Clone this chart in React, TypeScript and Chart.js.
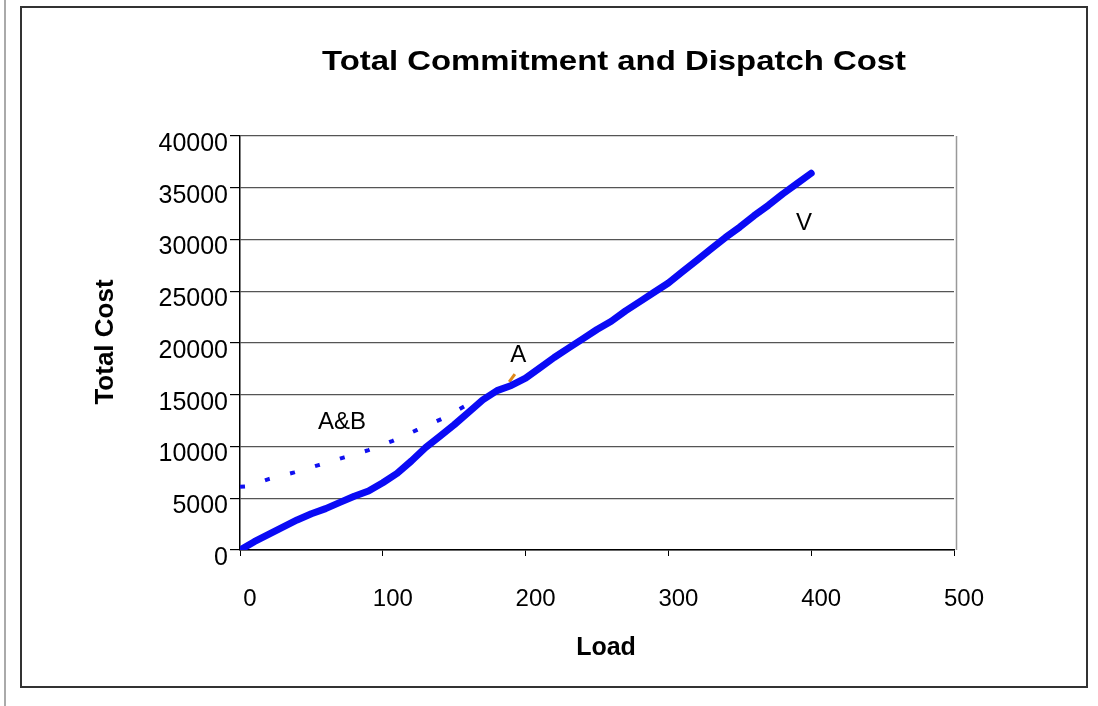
import React, { useEffect, useRef } from "react";
import { Chart, registerables } from "chart.js";

Chart.register(...registerables);

const titleText = "Total Commitment and Dispatch Cost";
const xTitle = "Load";
const yTitle = "Total Cost";

const vLoad = [0, 10, 20, 30, 40, 50, 60, 70, 80, 90, 100, 110, 120, 130, 140, 150, 160, 170, 180, 190, 200, 210, 220, 230, 240, 250, 260, 270, 280, 290, 300, 310, 320, 330, 340, 350, 360, 370, 380, 390, 400];
const vCost = [0, 800, 1500, 2200, 2900, 3500, 4000, 4600, 5200, 5700, 6500, 7400, 8600, 9900, 11000, 12100, 13300, 14500, 15400, 15900, 16600, 17600, 18600, 19500, 20400, 21300, 22100, 23100, 24000, 24900, 25800, 26900, 28000, 29100, 30200, 31200, 32300, 33300, 34400, 35400, 36400];

const abLoad = [0, 5, 20, 38, 55, 73, 90, 107, 124, 141, 160];
const abCost = [6100, 6150, 6850, 7500, 8200, 8950, 9650, 10550, 11600, 12650, 14100];

const aLoad = [188.5, 192.5];
const aCost = [16250, 17000];

const noteText = ["A&B", "A", "V"];
const noteLoad = [71.5, 194.8, 395];
const noteCost = [11700, 18150, 30900];

const FONT = 'Arial, "Liberation Sans", sans-serif';

const toPts = (xs: number[], ys: number[]) => xs.map((x, i) => ({ x, y: ys[i] }));

const textPlugin = {
  id: "texts",
  afterDraw(chart: any) {
    const ctx = chart.ctx as CanvasRenderingContext2D;
    const { right, top, bottom } = chart.chartArea;
    const xs = chart.scales.x;
    const ys = chart.scales.y;
    ctx.save();
    // right border of plot area
    ctx.strokeStyle = "#999";
    ctx.lineWidth = 1.5;
    ctx.beginPath();
    ctx.moveTo(right + 2.5, top);
    ctx.lineTo(right + 2.5, bottom);
    ctx.stroke();

    ctx.fillStyle = "#000";
    // title (stretched horizontally like the original)
    ctx.font = `bold 28px ${FONT}`;
    ctx.textAlign = "center";
    ctx.textBaseline = "alphabetic";
    const w = ctx.measureText(titleText).width;
    ctx.save();
    ctx.translate(614, 70);
    ctx.scale(584 / w, 1);
    ctx.fillText(titleText, 0, 0);
    ctx.restore();

    // x axis title
    ctx.font = `bold 25px ${FONT}`;
    ctx.fillText(xTitle, 606, 655);

    // y axis title
    ctx.save();
    ctx.translate(113, 342);
    ctx.rotate(-Math.PI / 2);
    ctx.font = `bold 26px ${FONT}`;
    ctx.fillText(yTitle, 0, 0);
    ctx.restore();

    // series notes
    ctx.font = `24px ${FONT}`;
    noteText.forEach((t, i) => {
      ctx.fillText(t, xs.getPixelForValue(noteLoad[i]), ys.getPixelForValue(noteCost[i]));
    });
    ctx.restore();
  },
};

export default function App() {
  const ref = useRef<HTMLCanvasElement>(null);
  useEffect(() => {
    if (!ref.current) return;
    const chart = new Chart(ref.current, {
      type: "scatter",
      data: {
        datasets: [
          {
            label: "A&B",
            data: toPts(abLoad, abCost),
            showLine: true,
            borderColor: "#1010f0",
            borderWidth: 4,
            borderDash: [5, 21],
            borderCapStyle: "butt",
            pointRadius: 0,
          },
          {
            label: "V",
            data: toPts(vLoad, vCost),
            showLine: true,
            borderColor: "#0a0af5",
            borderWidth: 7,
            borderCapStyle: "round",
            borderJoinStyle: "round",
            pointRadius: 0,
          },
          {
            label: "A",
            data: toPts(aLoad, aCost),
            showLine: true,
            borderColor: "#e08a1a",
            borderWidth: 3,
            pointRadius: 0,
          },
        ],
      },
      options: {
        responsive: false,
        animation: false,
        layout: { padding: { left: 140, top: 136, right: 144, bottom: 56 } },
        plugins: { legend: { display: false }, title: { display: false }, tooltip: { enabled: false } },
        scales: {
          x: {
            type: "linear",
            min: 0,
            max: 500,
            afterFit: (s: any) => { s.height = 100; },
            ticks: {
              stepSize: 100,
              color: "#000",
              font: { family: FONT, size: 24 },
              padding: 29,
              labelOffset: 10,
              maxRotation: 0,
              callback: (v: any) => String(v),
            },
            grid: { drawOnChartArea: false, drawTicks: true, tickLength: 6, tickColor: "#000" },
            border: { color: "#000", width: 1.5 },
          },
          y: {
            min: 0,
            max: 40000,
            afterFit: (s: any) => { s.width = 100; },
            ticks: {
              stepSize: 5000,
              color: "#000",
              font: { family: FONT, size: 25 },
              padding: 2,
              labelOffset: 8,
              callback: (v: any) => String(v),
            },
            grid: { color: "#555", lineWidth: 1.2, tickLength: 10, tickColor: "#000" },
            border: { color: "#000", width: 1.5 },
          },
        },
      },
      plugins: [textPlugin],
    });
    return () => chart.destroy();
  }, []);

  return (
    <div style={{ position: "absolute", left: 0, top: 0, width: 1098, height: 706, background: "#fff" }}>
      <div style={{ position: "absolute", left: 4, top: 0, width: 2, height: 706, background: "#aaa" }} />
      <canvas ref={ref} width={1098} height={706} style={{ position: "absolute", left: 0, top: 0 }} />
      <div style={{ position: "absolute", left: 20, top: 6, width: 1064, height: 678, border: "2px solid #333", pointerEvents: "none" }} />
    </div>
  );
}
